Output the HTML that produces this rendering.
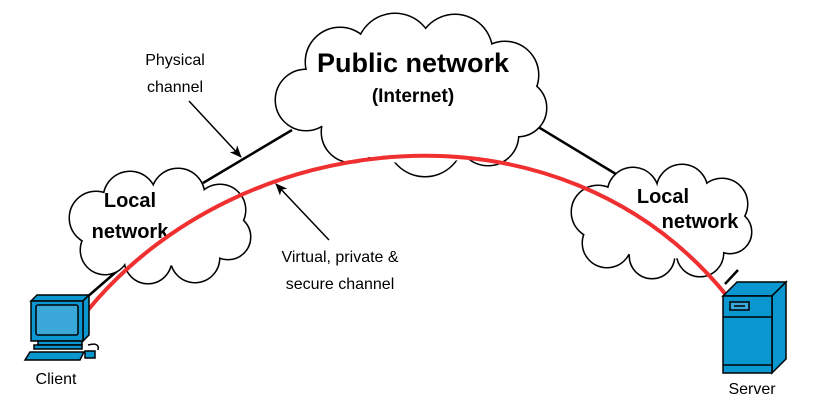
<!DOCTYPE html>
<html><head><style>body{margin:0;background:#fff}svg{display:block}text{font-family:"Liberation Sans",sans-serif}</style></head><body>
<svg width="819" height="411" viewBox="0 0 819 411" xmlns="http://www.w3.org/2000/svg">
<defs>
<marker id="ah" markerWidth="12" markerHeight="10" refX="11" refY="5" orient="auto" markerUnits="userSpaceOnUse"><path d="M0,0 L12,5 L0,10 L3,5 z" fill="#000"/></marker>
</defs>
<g stroke="#000" stroke-width="2.5" fill="none">
<line x1="203" y1="183" x2="292" y2="130"/>
<line x1="530" y1="122" x2="634" y2="185"/>
<line x1="86" y1="298" x2="124" y2="265"/>
<line x1="725" y1="284" x2="738" y2="270"/>
</g>
<!-- big cloud -->
<g stroke="#000" stroke-width="3" fill="#fff">
<circle cx="306" cy="100" r="30"/><circle cx="340" cy="62" r="34"/><circle cx="395" cy="52" r="38"/><circle cx="455" cy="52" r="37"/><circle cx="505" cy="75" r="33"/><circle cx="518" cy="108" r="28"/><circle cx="488" cy="135" r="30"/><circle cx="425" cy="138" r="38"/><circle cx="352" cy="132" r="30"/>
</g>
<g fill="#fff">
<circle cx="306" cy="100" r="30"/><circle cx="340" cy="62" r="34"/><circle cx="395" cy="52" r="38"/><circle cx="455" cy="52" r="37"/><circle cx="505" cy="75" r="33"/><circle cx="518" cy="108" r="28"/><circle cx="488" cy="135" r="30"/><circle cx="425" cy="138" r="38"/><circle cx="352" cy="132" r="30"/><circle cx="412" cy="95" r="62"/><ellipse cx="412" cy="100" rx="110" ry="45"/><ellipse cx="420" cy="128" rx="85" ry="36"/>
</g>
<!-- left cloud -->
<g stroke="#000" stroke-width="3" fill="#fff">
<circle cx="96" cy="218" r="26"/><circle cx="130" cy="198" r="26"/><circle cx="178" cy="195" r="26"/><circle cx="220" cy="210" r="25"/><circle cx="228" cy="237" r="22"/><circle cx="195" cy="258" r="24"/><circle cx="148" cy="260" r="23"/><circle cx="105" cy="250" r="24"/>
</g>
<g fill="#fff">
<circle cx="96" cy="218" r="26"/><circle cx="130" cy="198" r="26"/><circle cx="178" cy="195" r="26"/><circle cx="220" cy="210" r="25"/><circle cx="228" cy="237" r="22"/><circle cx="195" cy="258" r="24"/><circle cx="148" cy="260" r="23"/><circle cx="105" cy="250" r="24"/><ellipse cx="160" cy="228" rx="70" ry="38"/>
</g>
<!-- right cloud -->
<g stroke="#000" stroke-width="3" fill="#fff">
<circle cx="598" cy="212" r="26"/><circle cx="633" cy="193" r="25"/><circle cx="682" cy="190" r="25"/><circle cx="722" cy="204" r="25"/><circle cx="730" cy="232" r="21"/><circle cx="700" cy="253" r="23"/><circle cx="652" cy="256" r="22"/><circle cx="607" cy="243" r="24"/>
</g>
<g fill="#fff">
<circle cx="598" cy="212" r="26"/><circle cx="633" cy="193" r="25"/><circle cx="682" cy="190" r="25"/><circle cx="722" cy="204" r="25"/><circle cx="730" cy="232" r="21"/><circle cx="700" cy="253" r="23"/><circle cx="652" cy="256" r="22"/><circle cx="607" cy="243" r="24"/><ellipse cx="664" cy="223" rx="70" ry="36"/>
</g>
<g font-weight="bold" fill="#000" text-anchor="middle">
<text x="413" y="72" font-size="27">Public network</text>
<text x="413" y="102" font-size="19">(Internet)</text>
<text x="130" y="207" font-size="20">Local</text>
<text x="130" y="238" font-size="20">network</text>
<text x="663" y="203" font-size="20">Local</text>
<text x="700" y="228" font-size="20">network</text>
</g>
<g fill="#000" font-size="16" text-anchor="middle">
<text x="175" y="65">Physical</text>
<text x="175" y="92">channel</text>
<text x="340" y="262">Virtual, private &amp;</text>
<text x="340" y="289">secure channel</text>
<text x="56" y="384">Client</text>
<text x="752" y="394">Server</text>
</g>
<path d="M88,310 C240,125 560,90 727,296" stroke="#f03030" stroke-width="4" fill="none"/>
<g stroke="#000" stroke-width="1.5">
<line x1="189" y1="101" x2="241" y2="157" marker-end="url(#ah)"/>
<line x1="329" y1="240" x2="276" y2="184" marker-end="url(#ah)"/>
</g>
<!-- client -->
<g stroke="#000" stroke-width="1.5" fill="#0a96cf">
<path d="M31,301 L37,295 L89,295 L83,301 z"/>
<path d="M83,301 L89,295 L89,335 L83,341 z"/>
<rect x="31" y="301" width="52" height="40"/>
<rect x="36" y="305" width="42" height="30" rx="2" fill="#3aa8d8"/>
<rect x="38" y="341" width="44" height="4"/>
<rect x="34" y="345" width="48" height="4"/>
<path d="M25,360 L30,352 L84,352 L80,360 z"/>
<rect x="85" y="351" width="10" height="7"/>
<path d="M88,345 Q100,342 98,350" fill="none"/>
</g>
<!-- server -->
<g stroke="#000" stroke-width="1.5" fill="#0a96cf">
<path d="M723,296 L737,282 L786,282 L772,296 z"/>
<path d="M772,296 L786,282 L786,359 L772,373 z"/>
<rect x="723" y="296" width="49" height="77"/>
<line x1="723" y1="317" x2="772" y2="317"/>
<line x1="723" y1="365" x2="772" y2="365"/>
<rect x="730" y="302" width="19" height="8" fill="#3aa8d8"/>
<line x1="734" y1="306" x2="745" y2="306"/>
</g>
</svg>
</body></html>
